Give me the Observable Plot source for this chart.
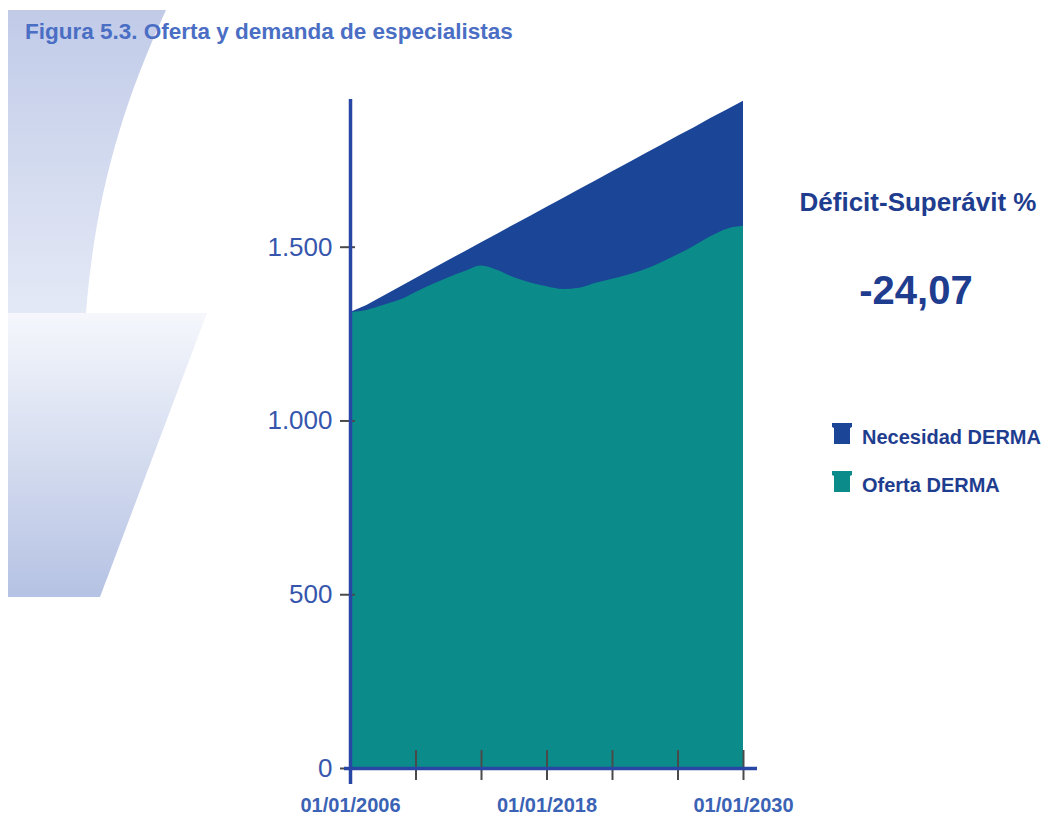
<!DOCTYPE html>
<html>
<head>
<meta charset="utf-8">
<script src="https://cdn.jsdelivr.net/npm/d3@7"></script>
<script src="https://cdn.jsdelivr.net/npm/@observablehq/plot@0.6"></script>
<style>
  html, body { margin: 0; padding: 0; background: #ffffff; }
  #wrap { position: relative; width: 1046px; height: 816px; overflow: hidden; font-family: "Liberation Sans", Arial, sans-serif; }
  #bg { position: absolute; left: 0; top: 0; }
  #chart { position: absolute; left: 0; top: 0; }
  .t { position: absolute; line-height: 1; white-space: nowrap; font-weight: bold; }
  #title { left: 25px; top: 21px; font-size: 22.5px; color: #4a6ec4; }
  #dsLabel { left: 768px; width: 300px; text-align: center; top: 189px; font-size: 26px; color: #1f3d8f; }
  #dsValue { left: 766px; width: 300px; text-align: center; top: 270px; font-size: 40px; color: #1f3d8f; }
  .leg { left: 862px; font-size: 20px; color: #1f3d8f; }
  .sw { position: absolute; left: 832px; }
</style>
</head>
<body>
<div id="wrap">
  <svg id="bg" width="1046" height="816">
    <defs>
      <linearGradient id="g1" x1="0" y1="0" x2="0" y2="1">
        <stop offset="0" stop-color="#c1cbe8"/>
        <stop offset="1" stop-color="#e4e9f6"/>
      </linearGradient>
      <linearGradient id="g2" x1="0" y1="0" x2="0" y2="1">
        <stop offset="0" stop-color="#f5f7fc"/>
        <stop offset="1" stop-color="#b5c2e3"/>
      </linearGradient>
    </defs>
    <path d="M8,10 L166,10 C120,110 95,200 86,313 L8,313 Z" fill="url(#g1)"/>
    <path d="M8,313 L207,313 L100,597 L8,597 Z" fill="url(#g2)"/>
  </svg>
  <div id="chart"></div>
  <div class="t" id="title">Figura 5.3. Oferta y demanda de especialistas</div>
  <div class="t" id="dsLabel">Déficit-Superávit %</div>
  <div class="t" id="dsValue">-24,07</div>
  <svg class="sw" style="top:423px" width="20" height="21"><path d="M0,0 H20 V4 L18,5 V21 H2 V5 L0,4 Z" fill="#1b4597"/></svg>
  <div class="t leg" style="top:427px">Necesidad DERMA</div>
  <svg class="sw" style="top:471px" width="20" height="21"><path d="M0,0 H20 V4 L18,5 V21 H2 V5 L0,4 Z" fill="#0b8c8b"/></svg>
  <div class="t leg" style="top:475px">Oferta DERMA</div>
</div>
<script>
// ---- data ----
const years = [2006,2007,2008,2009,2010,2011,2012,2013,2014,2015,2016,2017,2018,2019,2020,2021,2022,2023,2024,2025,2026,2027,2028,2029,2030];
const necesidad = [1312,1332,1358,1384,1410,1436,1462,1487,1513,1538,1564,1589,1615,1640,1666,1691,1717,1742,1768,1793,1819,1844,1870,1895,1920];
const oferta = [1312,1318,1332,1347,1370,1392,1412,1430,1446,1433,1412,1397,1386,1378,1382,1396,1408,1420,1435,1455,1478,1503,1530,1552,1560];
const yTicks = [0, 500, 1000, 1500];
const yTickLabels = ["0", "500", "1.000", "1.500"];
const xTickYears = [2006, 2010, 2014, 2018, 2022, 2026, 2030];
const xLabelYears = [2006, 2018, 2030];
const xLabels = ["01/01/2006", "01/01/2018", "01/01/2030"];
const yMax = 1925;

const colNecesidad = "#1b4597";
const colOferta = "#0b8c8b";
const axisColor = "#2846a3";

const toDate = y => new Date(Date.UTC(y, 0, 1));
const rows = years.map((y, i) => ({date: toDate(y), necesidad: necesidad[i], oferta: oferta[i]}));
const x0 = toDate(years[0]), x1 = toDate(years[years.length - 1]);

const chart = Plot.plot({
  width: 1046,
  height: 816,
  marginLeft: 350,
  marginRight: 303,
  marginTop: 99,
  marginBottom: 48,
  style: {background: "transparent", fontFamily: "'Liberation Sans', Arial, sans-serif", overflow: "visible"},
  x: {type: "utc", domain: [x0, x1], label: null},
  y: {domain: [0, yMax], label: null},
  marks: [
    Plot.areaY(rows, {x: "date", y1: 0, y2: "necesidad", fill: colNecesidad, curve: "linear"}),
    Plot.areaY(rows, {x: "date", y1: 0, y2: "oferta", fill: colOferta, curve: "monotone-x"}),
    // tick marks
    Plot.axisY({ticks: yTicks, tickSize: 15, dx: 5, tickFormat: () => "", stroke: "#4a4a4a", strokeWidth: 2}),
    Plot.axisX({ticks: xTickYears.map(toDate), tickSize: 30, dy: -18, tickFormat: () => "", stroke: "#4a4a4a", strokeWidth: 2}),
    // axis lines
    Plot.ruleX([x0], {y1: yMax, y2: 0, insetBottom: -16, stroke: axisColor, strokeWidth: 3.5}),
    Plot.ruleY([0], {x1: x0, x2: x1, insetLeft: -6, insetRight: -14, stroke: axisColor, strokeWidth: 3.5}),
    // tick labels
    Plot.axisY({ticks: yTicks, tickSize: 0, tickPadding: 18, fontSize: 26, fill: "#3656ad",
      tickFormat: d => yTickLabels[yTicks.indexOf(d)]}),
    Plot.axisX({ticks: xLabelYears.map(toDate), tickSize: 0, tickPadding: 29, fontSize: 20, fontWeight: "bold", fill: "#3a62b5",
      tickFormat: d => xLabels[xLabelYears.indexOf(d.getUTCFullYear())]})
  ]
});
document.getElementById("chart").appendChild(chart);
</script>
</body>
</html>
